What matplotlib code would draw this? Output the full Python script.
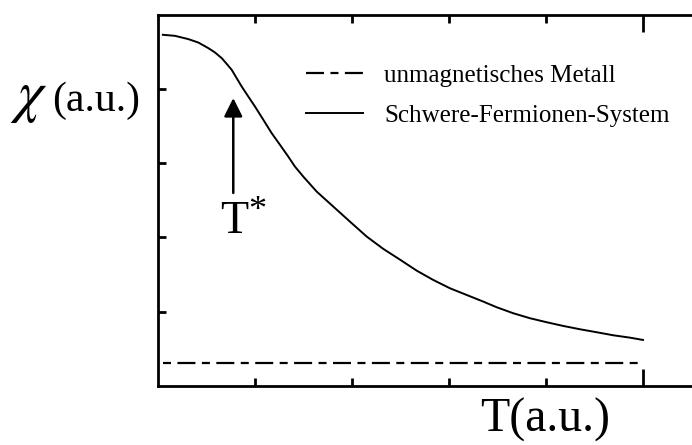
import matplotlib.pyplot as plt

plt.rcParams['font.family'] = ['Liberation Serif', 'DejaVu Serif']

# Suszeptibilität des Schwere-Fermionen-Systems
t_hf = [0.05, 0.175, 0.312, 0.415, 0.519, 0.588, 0.657, 0.708, 0.760, 0.811,
        0.863, 0.931, 1.000, 1.086, 1.172, 1.258, 1.343, 1.412, 1.498, 1.636,
        1.807, 1.979, 2.152, 2.323, 2.495, 2.667, 2.838, 3.010, 3.182, 3.354,
        3.492, 3.663, 3.835, 4.007, 4.178, 4.351, 4.523, 4.694, 4.866, 5.000]
chi_hf = [4.733, 4.719, 4.675, 4.629, 4.553, 4.494, 4.418, 4.341, 4.260, 4.148,
          4.035, 3.900, 3.765, 3.586, 3.406, 3.248, 3.090, 2.955, 2.820, 2.618,
          2.416, 2.213, 2.011, 1.845, 1.700, 1.552, 1.426, 1.314, 1.224, 1.134,
          1.058, 0.977, 0.910, 0.856, 0.806, 0.761, 0.721, 0.680, 0.648, 0.617]

# unmagnetisches Metall: konstante Pauli-Suszeptibilität
t_metal = [0.05, 5.0]
chi_metal = [0.31, 0.31]

# Kohärenztemperatur T*
t_star = 0.776
arrow_from = 2.60
arrow_to = 3.88

fig = plt.figure(figsize=(6.92, 4.45), dpi=100)
ax = fig.add_axes([158 / 692, 59.3 / 445, 582 / 692, 370.7 / 445])

ax.plot(t_metal, chi_metal, color='black', lw=1.6,
        linestyle=(0, (3.6, 2.9, 8.1, 2.9)), dash_capstyle='butt',
        label='unmagnetisches Metall')
ax.plot(t_hf, chi_hf, color='black', lw=1.4, solid_joinstyle='round',
        label='Schwere-Fermionen-System')

ax.annotate('', xy=(t_star, arrow_to), xytext=(t_star, arrow_from),
            arrowprops=dict(arrowstyle='-|>', color='black', lw=1.8,
                            mutation_scale=28, shrinkA=0, shrinkB=0))
ax.annotate('T', xy=(t_star, arrow_from), xytext=(-13, -40),
            textcoords='offset pixels', fontsize=33, ha='left', va='baseline')
ax.annotate('*', xy=(t_star, arrow_from), xytext=(14.5, -2),
            textcoords='offset pixels', fontsize=26, ha='left', va='top')

ax.set_xlim(0, 6)
ax.set_ylim(0, 5)
ax.set_xticks([1, 2, 3, 4])
ax.set_xticks([5], minor=True)
ax.set_yticks([1, 2, 3, 4])
ax.set_xticklabels([])
ax.set_yticklabels([])
ax.tick_params(axis='both', which='major', direction='in', length=6, width=2,
               top=True, right=False)
ax.tick_params(axis='x', which='minor', direction='in', length=12, width=2,
               top=True)
for s in ax.spines.values():
    s.set_linewidth(2)

leg = ax.legend(loc='upper left', bbox_to_anchor=(0.216, 0.928), frameon=False,
                fontsize=18, handlelength=2.28, handletextpad=0.84,
                labelspacing=0.71)
leg.get_lines()[0].set_linestyle((0, (8.1, 2.9, 3.6, 2.9)))

fig.text(10 / 692, 1 - 111 / 445, r'$\chi$', fontsize=42, ha='left',
         va='baseline', math_fontfamily='stix')
fig.text(52 / 692, 1 - 111 / 445, '(a.u.)', fontsize=30, ha='left',
         va='baseline')
fig.text(480 / 692, 1 - 432 / 445, 'T(a.u.)', fontsize=34.5, ha='left',
         va='baseline')

fig.savefig('out.png', dpi=100)
